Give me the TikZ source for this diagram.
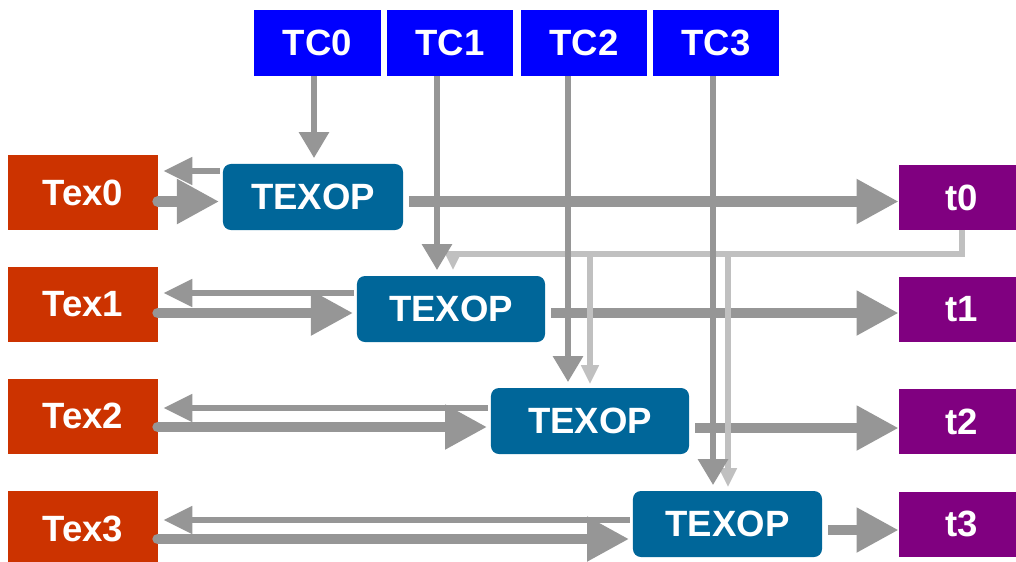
\documentclass[tikz,border=0pt]{standalone}
\usepackage{fontspec}
\setmainfont{Liberation Sans}
\usepackage{xcolor}
\usepackage{tikz}
\usetikzlibrary{arrows.meta}
\usetikzlibrary{positioning,calc}

\definecolor{texred}{HTML}{CC3300}
\definecolor{tcblue}{HTML}{0000FF}
\definecolor{opteal}{HTML}{006699}
\definecolor{outpurple}{HTML}{800080}
\definecolor{flowgray}{HTML}{969696}
\definecolor{backgray}{HTML}{C0C0C0}

\begin{document}
\begin{tikzpicture}[x=0.025cm,y=-0.025cm,line join=miter]
% -------------------------------------------------
% Styles
% -------------------------------------------------
\tikzset{
  box/.style={inner sep=0pt, text=white, font=\fontsize{26}{26}\selectfont\bfseries},
  texbox/.style={box, fill=texred, minimum width=3.725cm, minimum height=1.875cm},
  tcbox/.style={box, fill=tcblue, minimum width=3.15cm, minimum height=1.65cm},
  opbox/.style={box, fill=opteal, rounded corners=0.2cm, minimum height=1.65cm},
  outbox/.style={box, fill=outpurple, minimum width=3.15cm, minimum height=1.625cm},
  fwdarrow/.style={draw=flowgray, line width=7.8pt, -{Triangle[length=30pt,width=30pt]}},
  backarrow/.style={draw=flowgray, line width=3.9pt, -{Triangle[length=20.5pt,width=19pt]}},
  tcarrow/.style={draw=flowgray, line width=4.25pt, -{Triangle[length=18.4pt,width=20.5pt]}},
  fbarrow/.style={draw=backgray, line width=3.9pt, -{Triangle[length=13.5pt,width=12pt]}},
}
\useasboundingbox (0,0) rectangle (1016,561);
% -------------------------------------------------
% Boxes
% -------------------------------------------------
\foreach \i/\y in {0/192.5,1/304.5,2/416,3/528.5}{
  \node[texbox] (tex\i) at (83,\y) {Tex\i};
}
\foreach \i/\x in {0/317.5,1/450,2/584,3/716}{
  \node[tcbox] (tc\i) at (\x,43) {TC\i};
}
\foreach \i/\x/\y/\w in {0/313/197/4.5,1/451/309/4.7,2/590/421/4.95,3/727.5/524/4.725}{
  \node[opbox, minimum width=\w cm] (op\i) at (\x,\y) {TEXOP};
}
\foreach \i/\y in {0/197.5,1/309.5,2/421.5,3/524}{
  \node[outbox] (t\i) at (962,\y) {t\i};
}
% -------------------------------------------------
% Row arrows: texture in, texture back, result out
% -------------------------------------------------
\foreach \i/\yf/\yb/\yo in {0/201.5/171/201.5,1/313/293/313,2/427/408/428,3/539/520/530}{
  \draw[fwdarrow, line cap=round, shorten >=2.5pt] (tex\i.east |- 0,\yf) -- (op\i.west |- 0,\yf);
  \draw[backarrow, shorten <=2pt, shorten >=4pt] (op\i.west |- 0,\yb) -- (tex\i.east |- 0,\yb);
  \draw[fwdarrow, shorten <=4.25pt] (op\i.east |- 0,\yo) -- (t\i.west |- 0,\yo);
}
% -------------------------------------------------
% Feedback from t0
% -------------------------------------------------
\coordinate (fb) at (t0.south |- 0,254);
\draw[fbarrow, shorten >=4pt] (t0.south) -- (fb) -- (fb -| 453,0) -- (op1.north -| 453,0);
\draw[fbarrow, shorten >=2.5pt] (fb -| 590,0) -- (op2.north -| 590,0);
\draw[fbarrow, shorten >=2.5pt] (fb -| 728,0) -- (op3.north -| 728,0);
% -------------------------------------------------
% Constants down to each TEXOP
% -------------------------------------------------
\foreach \i/\x in {0/314,1/437,2/568,3/713}{
  \draw[tcarrow, shorten >=4pt] (tc\i.south -| \x,0) -- (op\i.north -| \x,0);
}

\end{tikzpicture}
\end{document}
